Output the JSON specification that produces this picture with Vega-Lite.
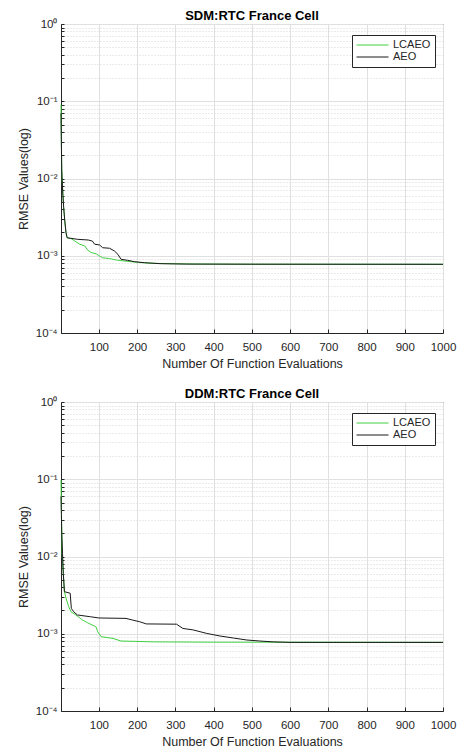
{
  "$schema": "https://vega.github.io/schema/vega-lite/v6.json",
  "background": "white",
  "padding": {"left": 16, "top": 9, "right": 8, "bottom": 3},
  "spacing": 16,
  "config": {
    "font": "Liberation Sans",
    "view": {"stroke": "#262626", "strokeWidth": 1},
    "axis": {
      "domainColor": "#262626",
      "tickColor": "#262626",
      "labelColor": "#262626",
      "titleColor": "#262626",
      "labelFontSize": 11.5,
      "titleFontSize": 12.5,
      "titleFontWeight": "normal",
      "labelFont": "Liberation Sans",
      "titleFont": "Liberation Sans"
    }
  },
  "datasets": {
    "sdm": [
      {"iter": 1, "algo": "LCAEO", "rmse": 0.09},
      {"iter": 2, "algo": "LCAEO", "rmse": 0.03},
      {"iter": 3, "algo": "LCAEO", "rmse": 0.013},
      {"iter": 4, "algo": "LCAEO", "rmse": 0.0095},
      {"iter": 6, "algo": "LCAEO", "rmse": 0.0062},
      {"iter": 8, "algo": "LCAEO", "rmse": 0.0042},
      {"iter": 11, "algo": "LCAEO", "rmse": 0.0028},
      {"iter": 14, "algo": "LCAEO", "rmse": 0.002},
      {"iter": 17, "algo": "LCAEO", "rmse": 0.00171},
      {"iter": 28, "algo": "LCAEO", "rmse": 0.00166},
      {"iter": 37, "algo": "LCAEO", "rmse": 0.00155},
      {"iter": 50, "algo": "LCAEO", "rmse": 0.00141},
      {"iter": 63, "algo": "LCAEO", "rmse": 0.00134},
      {"iter": 71, "algo": "LCAEO", "rmse": 0.00118},
      {"iter": 80, "algo": "LCAEO", "rmse": 0.0011},
      {"iter": 93, "algo": "LCAEO", "rmse": 0.00106},
      {"iter": 102, "algo": "LCAEO", "rmse": 0.00099},
      {"iter": 110, "algo": "LCAEO", "rmse": 0.00094},
      {"iter": 128, "algo": "LCAEO", "rmse": 0.00092},
      {"iter": 146, "algo": "LCAEO", "rmse": 0.00088},
      {"iter": 167, "algo": "LCAEO", "rmse": 0.000855},
      {"iter": 202, "algo": "LCAEO", "rmse": 0.00082},
      {"iter": 237, "algo": "LCAEO", "rmse": 0.0008},
      {"iter": 280, "algo": "LCAEO", "rmse": 0.00079},
      {"iter": 350, "algo": "LCAEO", "rmse": 0.000782},
      {"iter": 500, "algo": "LCAEO", "rmse": 0.000777},
      {"iter": 1000, "algo": "LCAEO", "rmse": 0.000775},
      {"iter": 1, "algo": "AEO", "rmse": 0.07},
      {"iter": 2, "algo": "AEO", "rmse": 0.028},
      {"iter": 3, "algo": "AEO", "rmse": 0.0125},
      {"iter": 4, "algo": "AEO", "rmse": 0.0095},
      {"iter": 6, "algo": "AEO", "rmse": 0.006},
      {"iter": 8, "algo": "AEO", "rmse": 0.0042},
      {"iter": 11, "algo": "AEO", "rmse": 0.0028},
      {"iter": 14, "algo": "AEO", "rmse": 0.002},
      {"iter": 17, "algo": "AEO", "rmse": 0.00171},
      {"iter": 45, "algo": "AEO", "rmse": 0.00163},
      {"iter": 72, "algo": "AEO", "rmse": 0.0016},
      {"iter": 83, "algo": "AEO", "rmse": 0.00155},
      {"iter": 89, "algo": "AEO", "rmse": 0.00141},
      {"iter": 102, "algo": "AEO", "rmse": 0.00138},
      {"iter": 110, "algo": "AEO", "rmse": 0.00127},
      {"iter": 128, "algo": "AEO", "rmse": 0.00125},
      {"iter": 141, "algo": "AEO", "rmse": 0.00115},
      {"iter": 150, "algo": "AEO", "rmse": 0.00104},
      {"iter": 158, "algo": "AEO", "rmse": 0.0009},
      {"iter": 175, "algo": "AEO", "rmse": 0.000873},
      {"iter": 193, "algo": "AEO", "rmse": 0.000838},
      {"iter": 219, "algo": "AEO", "rmse": 0.000813},
      {"iter": 260, "algo": "AEO", "rmse": 0.00079},
      {"iter": 330, "algo": "AEO", "rmse": 0.00078},
      {"iter": 500, "algo": "AEO", "rmse": 0.000777},
      {"iter": 1000, "algo": "AEO", "rmse": 0.000775}
    ],
    "ddm": [
      {"iter": 1, "algo": "LCAEO", "rmse": 0.098},
      {"iter": 2, "algo": "LCAEO", "rmse": 0.045},
      {"iter": 3, "algo": "LCAEO", "rmse": 0.02},
      {"iter": 4, "algo": "LCAEO", "rmse": 0.011},
      {"iter": 7, "algo": "LCAEO", "rmse": 0.006},
      {"iter": 10, "algo": "LCAEO", "rmse": 0.0035},
      {"iter": 14, "algo": "LCAEO", "rmse": 0.0029},
      {"iter": 21, "algo": "LCAEO", "rmse": 0.00224},
      {"iter": 27, "algo": "LCAEO", "rmse": 0.00193},
      {"iter": 40, "algo": "LCAEO", "rmse": 0.00175},
      {"iter": 57, "algo": "LCAEO", "rmse": 0.00151},
      {"iter": 70, "algo": "LCAEO", "rmse": 0.00139},
      {"iter": 88, "algo": "LCAEO", "rmse": 0.00126},
      {"iter": 93, "algo": "LCAEO", "rmse": 0.00122},
      {"iter": 97, "algo": "LCAEO", "rmse": 0.00106},
      {"iter": 106, "algo": "LCAEO", "rmse": 0.000916},
      {"iter": 137, "algo": "LCAEO", "rmse": 0.00087},
      {"iter": 158, "algo": "LCAEO", "rmse": 0.000805},
      {"iter": 245, "algo": "LCAEO", "rmse": 0.000785},
      {"iter": 400, "algo": "LCAEO", "rmse": 0.000778},
      {"iter": 1000, "algo": "LCAEO", "rmse": 0.000775},
      {"iter": 1, "algo": "AEO", "rmse": 0.06},
      {"iter": 2, "algo": "AEO", "rmse": 0.035},
      {"iter": 3, "algo": "AEO", "rmse": 0.02},
      {"iter": 5, "algo": "AEO", "rmse": 0.011},
      {"iter": 7, "algo": "AEO", "rmse": 0.006},
      {"iter": 10, "algo": "AEO", "rmse": 0.0035},
      {"iter": 25, "algo": "AEO", "rmse": 0.00335},
      {"iter": 28, "algo": "AEO", "rmse": 0.00213},
      {"iter": 34, "algo": "AEO", "rmse": 0.00193},
      {"iter": 44, "algo": "AEO", "rmse": 0.00175},
      {"iter": 78, "algo": "AEO", "rmse": 0.00166},
      {"iter": 100, "algo": "AEO", "rmse": 0.0016},
      {"iter": 171, "algo": "AEO", "rmse": 0.00158},
      {"iter": 189, "algo": "AEO", "rmse": 0.0015},
      {"iter": 207, "algo": "AEO", "rmse": 0.00143},
      {"iter": 224, "algo": "AEO", "rmse": 0.00134},
      {"iter": 303, "algo": "AEO", "rmse": 0.00133},
      {"iter": 320, "algo": "AEO", "rmse": 0.00117},
      {"iter": 347, "algo": "AEO", "rmse": 0.00112},
      {"iter": 382, "algo": "AEO", "rmse": 0.00101},
      {"iter": 417, "algo": "AEO", "rmse": 0.000935},
      {"iter": 452, "algo": "AEO", "rmse": 0.00088},
      {"iter": 487, "algo": "AEO", "rmse": 0.00083},
      {"iter": 521, "algo": "AEO", "rmse": 0.000805},
      {"iter": 556, "algo": "AEO", "rmse": 0.000785},
      {"iter": 600, "algo": "AEO", "rmse": 0.000773},
      {"iter": 1000, "algo": "AEO", "rmse": 0.000772}
    ]
  },
  "resolve": {"scale": {"color": "independent"}, "legend": {"color": "independent"}},
  "vconcat": [
    {
      "data": {"name": "sdm"},
      "width": 382,
      "height": 309,
      "title": {"text": "SDM:RTC France Cell", "frame": "group", "fontSize": 13, "fontWeight": "bold", "offset": -5, "color": "#000000", "font": "Liberation Sans"},
      "mark": {"type": "line", "strokeWidth": 1},
      "encoding": {
        "x": {
          "field": "iter", "type": "quantitative",
          "scale": {"domain": [1, 1000], "nice": false},
          "axis": {"title": "Number Of Function Evaluations", "values": [100, 200, 300, 400, 500, 600, 700, 800, 900, 1000], "format": "d", "tickSize": -4, "labelPadding": 12, "gridColor": "#e0e0e0", "titlePadding": 5, "labelFlush": false}
        },
        "y": {
          "field": "rmse", "type": "quantitative",
          "scale": {"type": "log", "domain": [0.0001, 1], "nice": false},
          "axis": {
            "title": "RMSE Values(log)",
            "values": [0.0001, 0.0002, 0.0003, 0.0004, 0.0005, 0.0006, 0.0007, 0.0008, 0.0009, 0.001, 0.002, 0.003, 0.004, 0.005, 0.006, 0.007, 0.008, 0.009, 0.01, 0.02, 0.03, 0.04, 0.05, 0.06, 0.07, 0.08, 0.09, 0.1, 0.2, 0.3, 0.4, 0.5, 0.6, 0.7, 0.8, 0.9, 1],
            "labelExpr": "abs(datum.value/pow(10,round(log(datum.value)/LN10))-1)<0.01 ? (round(log(datum.value)/LN10)==0 ? '10⁰' : round(log(datum.value)/LN10)==-1 ? '10⁻¹' : round(log(datum.value)/LN10)==-2 ? '10⁻²' : round(log(datum.value)/LN10)==-3 ? '10⁻³' : '10⁻⁴') : ''",
            "labelOverlap": false,
            "labelFlush": false,
            "tickSize": -3,
            "labelPadding": 7,
            "titlePadding": 5,
            "gridColor": {"condition": {"test": "abs(datum.value/pow(10,round(log(datum.value)/LN10))-1)<0.01", "value": "#e0e0e0"}, "value": "#d6d6d6"},
            "gridDash": {"condition": {"test": "abs(datum.value/pow(10,round(log(datum.value)/LN10))-1)<0.01", "value": []}, "value": [1, 2]}
          }
        },
        "color": {
          "field": "algo", "type": "nominal",
          "scale": {"domain": ["LCAEO", "AEO"], "range": ["#40d040", "#1a1a1a"]},
          "legend": {"orient": "none", "legendX": 291, "legendY": 11, "title": null, "symbolType": "stroke", "symbolSize": 1024, "symbolStrokeWidth": 1, "clipHeight": 12, "labelFontSize": 11, "labelColor": "#262626", "labelFont": "Liberation Sans", "strokeColor": "#262626", "fillColor": "white", "padding": 4, "rowPadding": 0, "labelOffset": 4}
        }
      }
    },
    {
      "data": {"name": "ddm"},
      "width": 382,
      "height": 309,
      "title": {"text": "DDM:RTC France Cell", "frame": "group", "fontSize": 13, "fontWeight": "bold", "offset": -5, "color": "#000000", "font": "Liberation Sans"},
      "mark": {"type": "line", "strokeWidth": 1},
      "encoding": {
        "x": {
          "field": "iter", "type": "quantitative",
          "scale": {"domain": [1, 1000], "nice": false},
          "axis": {"title": "Number Of Function Evaluations", "values": [100, 200, 300, 400, 500, 600, 700, 800, 900, 1000], "format": "d", "tickSize": -4, "labelPadding": 12, "gridColor": "#e0e0e0", "titlePadding": 5, "labelFlush": false}
        },
        "y": {
          "field": "rmse", "type": "quantitative",
          "scale": {"type": "log", "domain": [0.0001, 1], "nice": false},
          "axis": {
            "title": "RMSE Values(log)",
            "values": [0.0001, 0.0002, 0.0003, 0.0004, 0.0005, 0.0006, 0.0007, 0.0008, 0.0009, 0.001, 0.002, 0.003, 0.004, 0.005, 0.006, 0.007, 0.008, 0.009, 0.01, 0.02, 0.03, 0.04, 0.05, 0.06, 0.07, 0.08, 0.09, 0.1, 0.2, 0.3, 0.4, 0.5, 0.6, 0.7, 0.8, 0.9, 1],
            "labelExpr": "abs(datum.value/pow(10,round(log(datum.value)/LN10))-1)<0.01 ? (round(log(datum.value)/LN10)==0 ? '10⁰' : round(log(datum.value)/LN10)==-1 ? '10⁻¹' : round(log(datum.value)/LN10)==-2 ? '10⁻²' : round(log(datum.value)/LN10)==-3 ? '10⁻³' : '10⁻⁴') : ''",
            "labelOverlap": false,
            "labelFlush": false,
            "tickSize": -3,
            "labelPadding": 7,
            "titlePadding": 5,
            "gridColor": {"condition": {"test": "abs(datum.value/pow(10,round(log(datum.value)/LN10))-1)<0.01", "value": "#e0e0e0"}, "value": "#d6d6d6"},
            "gridDash": {"condition": {"test": "abs(datum.value/pow(10,round(log(datum.value)/LN10))-1)<0.01", "value": []}, "value": [1, 2]}
          }
        },
        "color": {
          "field": "algo", "type": "nominal",
          "scale": {"domain": ["LCAEO", "AEO"], "range": ["#40d040", "#1a1a1a"]},
          "legend": {"orient": "none", "legendX": 291, "legendY": 11, "title": null, "symbolType": "stroke", "symbolSize": 1024, "symbolStrokeWidth": 1, "clipHeight": 12, "labelFontSize": 11, "labelColor": "#262626", "labelFont": "Liberation Sans", "strokeColor": "#262626", "fillColor": "white", "padding": 4, "rowPadding": 0, "labelOffset": 4}
        }
      }
    }
  ]
}
